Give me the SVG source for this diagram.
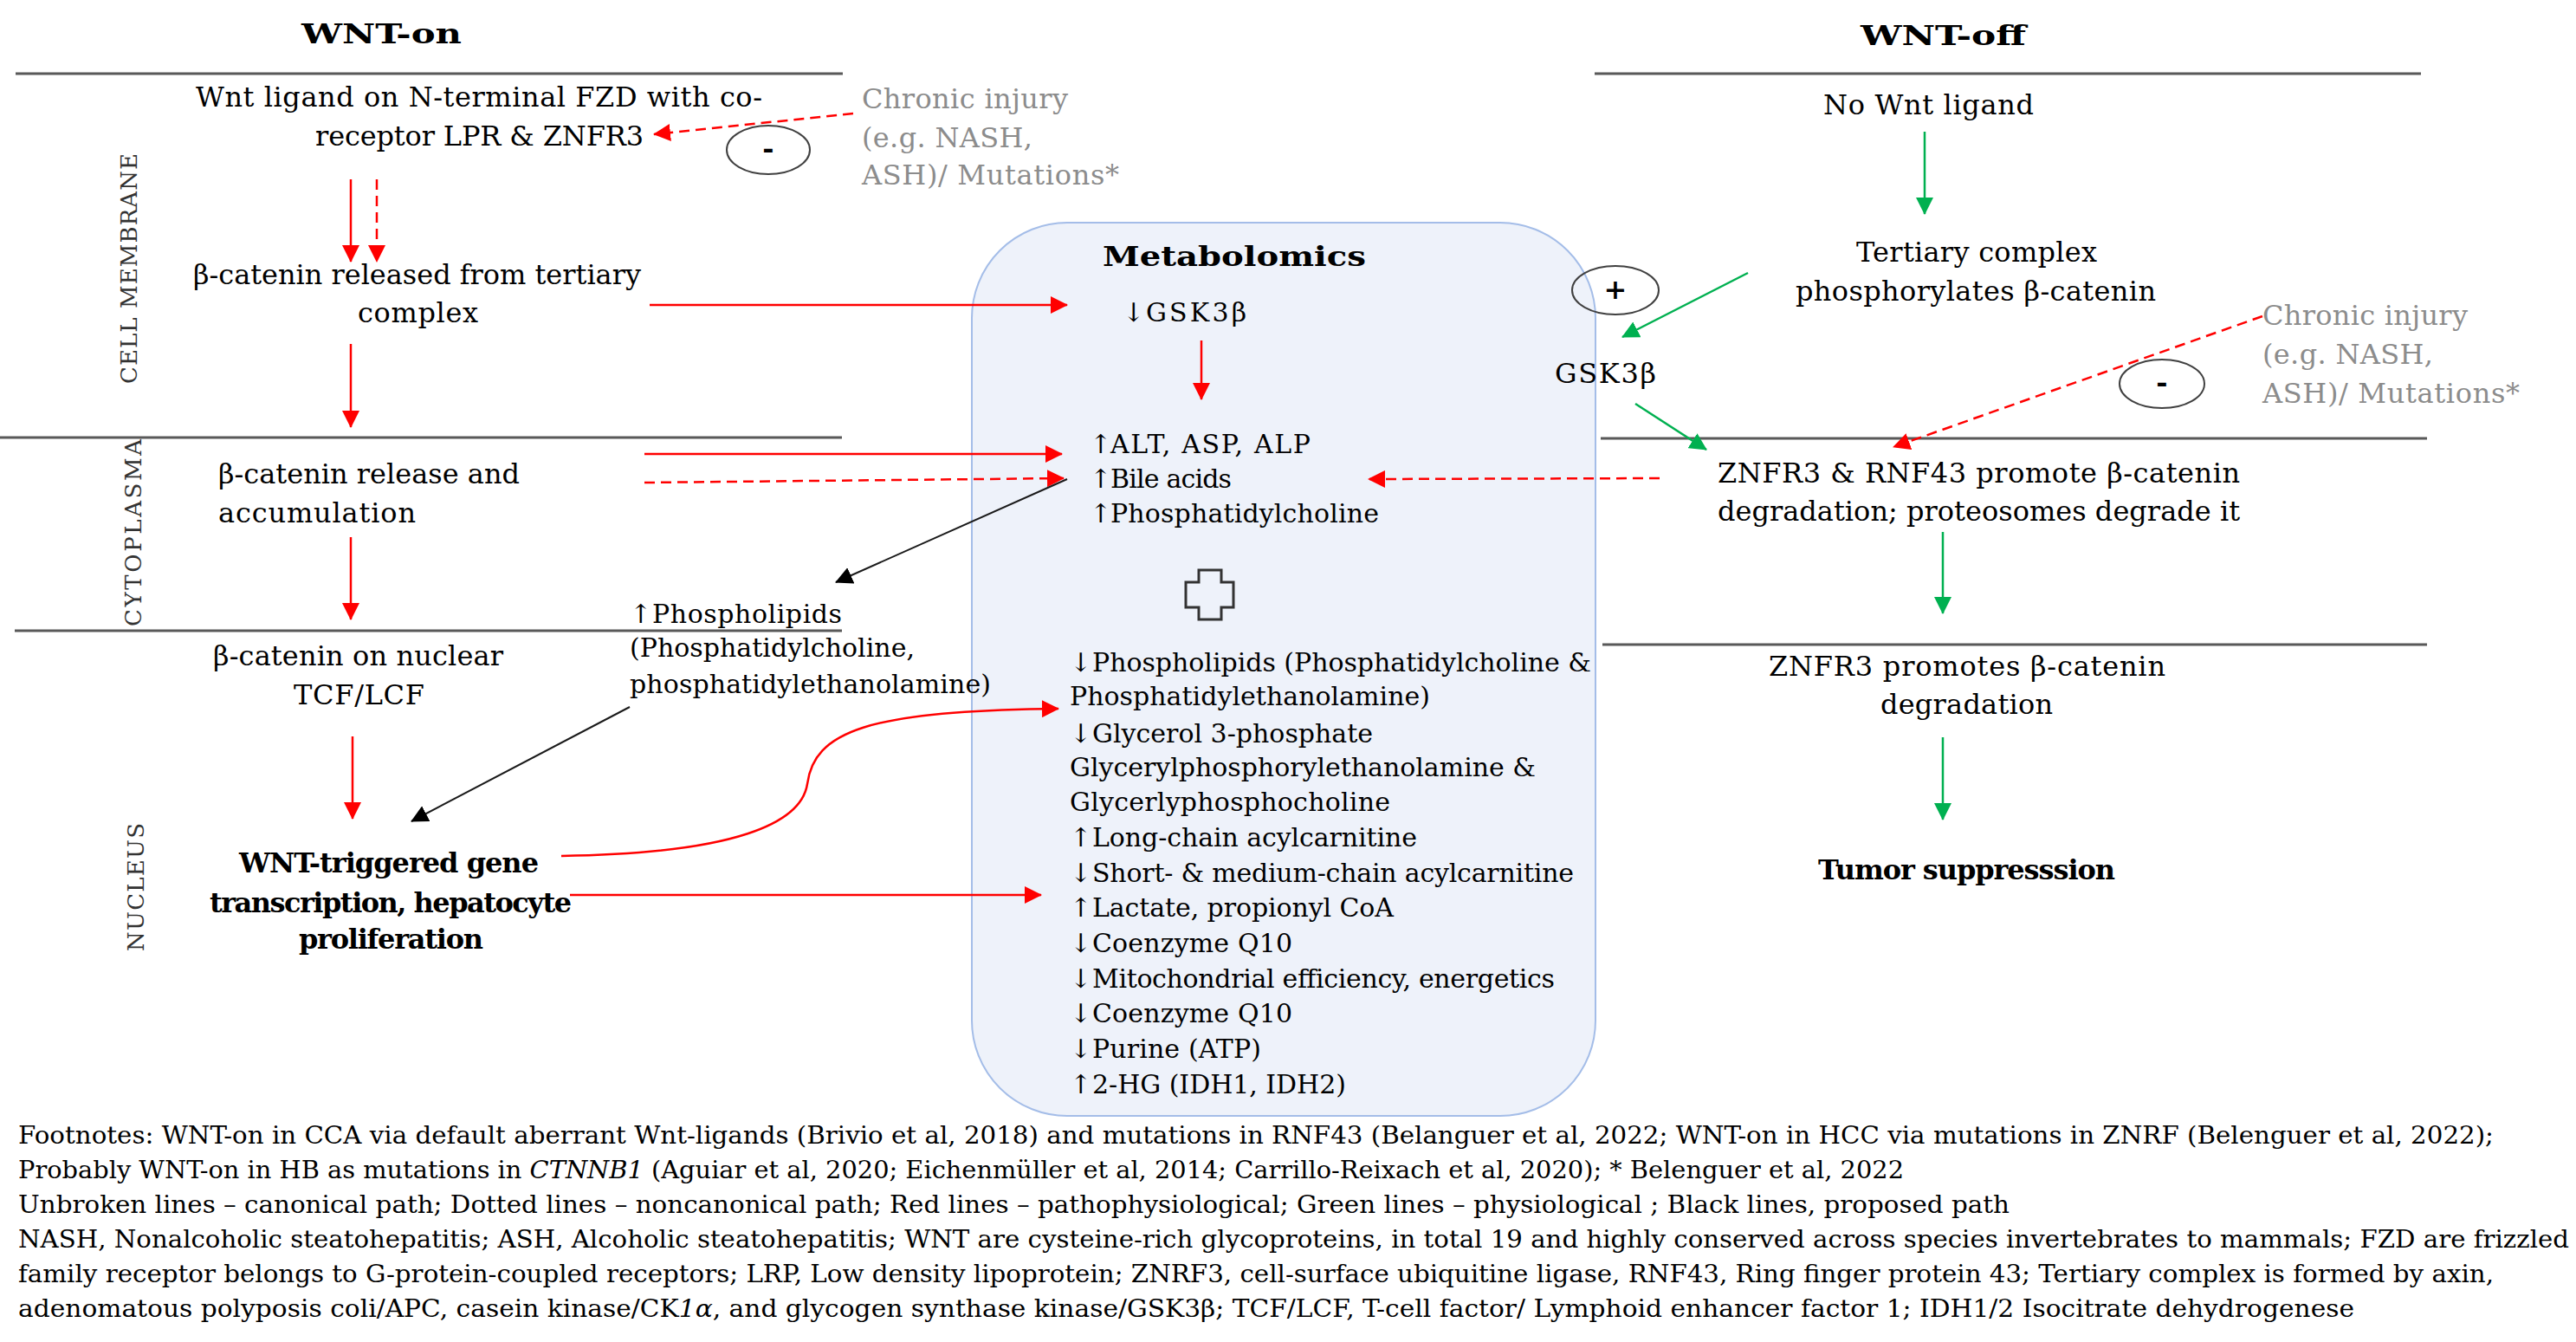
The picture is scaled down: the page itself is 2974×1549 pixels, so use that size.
<svg xmlns="http://www.w3.org/2000/svg" width="2974" height="1549" viewBox="0 0 2974 1549">
<style>
.n { font-family: "DejaVu Serif", "Liberation Serif", serif; font-size: 32px; fill: #000; }
.b { font-weight: bold; }
.m { font-size: 30px; }
.g { fill: #8c8c8c; }
.v { font-size: 26px; fill: #333; }
.f { font-size: 27px; }
.rule { stroke: #595959; stroke-width: 3; }
.red { stroke: #ff0000; stroke-width: 2.5; fill: none; }
.dash { stroke-dasharray: 12 7; }
.grn { stroke: #00b050; stroke-width: 2.5; fill: none; }
.blk { stroke: #1a1a1a; stroke-width: 2; fill: none; }
.ell { fill: none; stroke: #404040; stroke-width: 2; }
</style>
<defs>
<marker id="ar" viewBox="0 0 20 20" refX="19" refY="10" markerWidth="20" markerHeight="20" markerUnits="userSpaceOnUse" orient="auto"><path d="M0,0 L20,10 L0,20 Z" fill="#ff0000"/></marker>
<marker id="ag" viewBox="0 0 20 20" refX="19" refY="10" markerWidth="20" markerHeight="20" markerUnits="userSpaceOnUse" orient="auto"><path d="M0,0 L20,10 L0,20 Z" fill="#00b050"/></marker>
<marker id="ak" viewBox="0 0 20 20" refX="19" refY="10" markerWidth="20" markerHeight="20" markerUnits="userSpaceOnUse" orient="auto"><path d="M0,0 L20,10 L0,20 Z" fill="#000"/></marker>
</defs>
<rect width="2974" height="1549" fill="#fff"/>

<g id="rules">
<line class="rule" x1="18" y1="85" x2="973" y2="85"/>
<line class="rule" x1="1841" y1="85" x2="2795" y2="85"/>
<line class="rule" x1="0" y1="505" x2="972" y2="505"/>
<line class="rule" x1="17" y1="728" x2="972" y2="728"/>
<line class="rule" x1="1848" y1="506" x2="2802" y2="506"/>
<line class="rule" x1="1850" y1="744" x2="2802" y2="744"/>
</g>

<g id="metabolomics">
<rect x="1122" y="257" width="720" height="1031" rx="110" ry="110" fill="#eef2fa" stroke="#a4bde8" stroke-width="2"/>
<text class="n b" x="1273" y="307" font-size="44" textLength="304" lengthAdjust="spacingAndGlyphs">Metabolomics</text>
<text class="n m"><tspan x="1296" y="371">↓</tspan><tspan x="1323" y="371" textLength="116">GSK3β</tspan></text>
<text class="n m"><tspan x="1258" y="523">↑</tspan><tspan x="1282" y="523" textLength="231">ALT, ASP, ALP</tspan></text>
<text class="n m"><tspan x="1258" y="563">↑</tspan><tspan x="1282" y="563" textLength="140">Bile acids</tspan></text>
<text class="n m"><tspan x="1258" y="603">↑</tspan><tspan x="1282" y="603" textLength="310">Phosphatidylcholine</tspan></text>
<polygon points="1384,658 1410,658 1410,672 1424,672 1424,701 1410,701 1410,715 1384,715 1384,701 1369,701 1369,672 1384,672" fill="none" stroke="#333" stroke-width="3"/>
<text class="n m"><tspan x="1235" y="775">↓</tspan><tspan x="1261" y="775" textLength="576">Phospholipids (Phosphatidylcholine &amp;</tspan></text>
<text class="n m" x="1235" y="814" textLength="416">Phosphatidylethanolamine)</text>
<text class="n m"><tspan x="1235" y="857">↓</tspan><tspan x="1261" y="857" textLength="324">Glycerol 3-phosphate</tspan></text>
<text class="n m" x="1235" y="896" textLength="538">Glycerylphosphorylethanolamine &amp;</text>
<text class="n m" x="1235" y="936" textLength="370">Glycerlyphosphocholine</text>
<text class="n m"><tspan x="1235" y="977">↑</tspan><tspan x="1261" y="977" textLength="375">Long-chain acylcarnitine</tspan></text>
<text class="n m"><tspan x="1235" y="1018">↓</tspan><tspan x="1261" y="1018" textLength="556">Short- &amp; medium-chain acylcarnitine</tspan></text>
<text class="n m"><tspan x="1235" y="1058">↑</tspan><tspan x="1261" y="1058" textLength="348">Lactate, propionyl CoA</tspan></text>
<text class="n m"><tspan x="1235" y="1099">↓</tspan><tspan x="1261" y="1099" textLength="231">Coenzyme Q10</tspan></text>
<text class="n m"><tspan x="1235" y="1140">↓</tspan><tspan x="1261" y="1140" textLength="534">Mitochondrial efficiency, energetics</tspan></text>
<text class="n m"><tspan x="1235" y="1180">↓</tspan><tspan x="1261" y="1180" textLength="231">Coenzyme Q10</tspan></text>
<text class="n m"><tspan x="1235" y="1221">↓</tspan><tspan x="1261" y="1221" textLength="195">Purine (ATP)</tspan></text>
<text class="n m"><tspan x="1235" y="1262">↑</tspan><tspan x="1261" y="1262" textLength="293">2-HG (IDH1, IDH2)</tspan></text>
</g>

<g id="titles">
<text class="n b" x="348" y="50" font-size="46" textLength="185" lengthAdjust="spacingAndGlyphs">WNT-on</text>
<text class="n b" x="2148" y="52" font-size="46" textLength="191" lengthAdjust="spacingAndGlyphs">WNT-off</text>
</g>

<g id="compartments">
<text class="n v" transform="translate(158,310) rotate(-90)" x="-133" y="0" textLength="266">CELL MEMBRANE</text>
<text class="n v" transform="translate(163,615) rotate(-90)" x="-108" y="0" textLength="216">CYTOPLASMA</text>
<text class="n v" transform="translate(166,1024) rotate(-90)" x="-74" y="0" textLength="148">NUCLEUS</text>
</g>

<g id="wnt-ligand">
<text class="n" x="226" y="123" textLength="654">Wnt ligand on N-terminal FZD with co-</text>
<text class="n" x="364" y="168" textLength="379">receptor LPR &amp; ZNFR3</text>
</g>
<g id="injury-left">
<text class="n g" x="995" y="125" textLength="238">Chronic injury</text>
<text class="n g" x="995" y="170" textLength="197">(e.g. NASH,</text>
<text class="n g" x="995" y="213" textLength="297">ASH)/ Mutations*</text>
</g>
<g id="minus-left">
<ellipse class="ell" cx="887" cy="173" rx="48" ry="28"/>
<text class="n b" x="887" y="182" font-size="28" text-anchor="middle">-</text>
</g>
<g id="bcat-released">
<text class="n" x="223" y="328" textLength="517">β-catenin released from tertiary</text>
<text class="n" x="413" y="372" textLength="139">complex</text>
</g>
<g id="bcat-accum">
<text class="n" x="252" y="558" textLength="348">β-catenin release and</text>
<text class="n" x="252" y="603" textLength="228">accumulation</text>
</g>
<g id="bcat-nuclear">
<text class="n" x="246" y="768" textLength="335">β-catenin on nuclear</text>
<text class="n" x="339" y="813" textLength="151">TCF/LCF</text>
</g>
<g id="phospholipids">
<text class="n m"><tspan x="727" y="719">↑</tspan><tspan x="753" y="719" textLength="219">Phospholipids</tspan></text>
<text class="n m" x="727" y="758" textLength="329">(Phosphatidylcholine,</text>
<text class="n m" x="727" y="800" textLength="417">phosphatidylethanolamine)</text>
</g>
<g id="gene-transcription">
<text class="n b" x="276" y="1007" textLength="346">WNT-triggered gene</text>
<text class="n b" x="242" y="1053" textLength="418">transcription, hepatocyte</text>
<text class="n b" x="345" y="1095" textLength="213">proliferation</text>
</g>

<g id="no-wnt">
<text class="n" x="2105" y="132" textLength="243">No Wnt ligand</text>
</g>
<g id="tertiary-complex">
<text class="n" x="2143" y="302" textLength="278">Tertiary complex</text>
<text class="n" x="2073" y="347" textLength="416">phosphorylates β-catenin</text>
</g>
<g id="plus">
<ellipse class="ell" cx="1865" cy="335" rx="50" ry="28"/>
<text class="n b" x="1865" y="345" font-size="28" text-anchor="middle">+</text>
</g>
<g id="gsk3b">
<text class="n" x="1795" y="442" textLength="117">GSK3β</text>
</g>
<g id="injury-right">
<text class="n g" x="2612" y="375" textLength="237">Chronic injury</text>
<text class="n g" x="2612" y="420" textLength="197">(e.g. NASH,</text>
<text class="n g" x="2612" y="465" textLength="297">ASH)/ Mutations*</text>
</g>
<g id="minus-right">
<ellipse class="ell" cx="2496" cy="443" rx="49" ry="28"/>
<text class="n b" x="2496" y="452" font-size="28" text-anchor="middle">-</text>
</g>
<g id="znfr3-rnf43">
<text class="n" x="1983" y="557" textLength="603">ZNFR3 &amp; RNF43 promote β-catenin</text>
<text class="n" x="1983" y="601" textLength="603">degradation; proteosomes degrade it</text>
</g>
<g id="znfr3">
<text class="n" x="2042" y="780" textLength="458">ZNFR3 promotes β-catenin</text>
<text class="n" x="2171" y="824" textLength="199">degradation</text>
</g>
<g id="tumor-suppression">
<text class="n b" x="2099" y="1015" textLength="343">Tumor suppresssion</text>
</g>

<g id="connectors">
<line class="red" x1="405" y1="207" x2="405" y2="302" marker-end="url(#ar)"/>
<line class="red dash" x1="435" y1="207" x2="435" y2="302" marker-end="url(#ar)"/>
<line class="red dash" x1="985" y1="131" x2="755" y2="155" marker-end="url(#ar)"/>
<line class="red" x1="405" y1="397" x2="405" y2="493" marker-end="url(#ar)"/>
<line class="red" x1="750" y1="352" x2="1232" y2="352" marker-end="url(#ar)"/>
<line class="red" x1="1387" y1="393" x2="1387" y2="461" marker-end="url(#ar)"/>
<line class="red" x1="744" y1="524" x2="1226" y2="524" marker-end="url(#ar)"/>
<line class="red dash" x1="744" y1="557" x2="1228" y2="552" marker-end="url(#ar)"/>
<line class="red dash" x1="1916" y1="552" x2="1580" y2="553" marker-end="url(#ar)"/>
<line class="red" x1="405" y1="620" x2="405" y2="715" marker-end="url(#ar)"/>
<line class="red" x1="407" y1="850" x2="407" y2="945" marker-end="url(#ar)"/>
<path class="red" d="M648,988 C850,985 925,950 932,905 C940,845 1000,820 1222,818" marker-end="url(#ar)"/>
<line class="red" x1="658" y1="1033" x2="1202" y2="1033" marker-end="url(#ar)"/>
<line class="red dash" x1="2612" y1="365" x2="2186" y2="516" marker-end="url(#ar)"/>
<line class="blk" x1="1232" y1="553" x2="965" y2="672" marker-end="url(#ak)"/>
<line class="blk" x1="727" y1="816" x2="475" y2="948" marker-end="url(#ak)"/>
<line class="grn" x1="2222" y1="152" x2="2222" y2="247" marker-end="url(#ag)"/>
<line class="grn" x1="2018" y1="315" x2="1873" y2="389" marker-end="url(#ag)"/>
<line class="grn" x1="1888" y1="466" x2="1970" y2="519" marker-end="url(#ag)"/>
<line class="grn" x1="2243" y1="614" x2="2243" y2="708" marker-end="url(#ag)"/>
<line class="grn" x1="2243" y1="851" x2="2243" y2="946" marker-end="url(#ag)"/>
</g>

<g id="footnotes">
<text class="n f" x="21" y="1320" textLength="2858" lengthAdjust="spacingAndGlyphs">Footnotes: WNT-on in CCA via default aberrant Wnt-ligands (Brivio et al, 2018) and mutations in RNF43 (Belanguer et al, 2022; WNT-on in HCC via mutations in ZNRF (Belenguer et al, 2022);</text>
<text class="n f" x="21" y="1360" textLength="2177" lengthAdjust="spacingAndGlyphs">Probably WNT-on in HB as mutations in <tspan font-style="italic">CTNNB1</tspan> (Aguiar et al, 2020; Eichenmüller et al, 2014; Carrillo-Reixach et al, 2020); * Belenguer et al, 2022</text>
<text class="n f" x="21" y="1400" textLength="2299" lengthAdjust="spacingAndGlyphs">Unbroken lines – canonical path; Dotted lines – noncanonical path; Red lines – pathophysiological; Green lines – physiological ; Black lines, proposed path</text>
<text class="n f" x="21" y="1440" textLength="2945" lengthAdjust="spacingAndGlyphs">NASH, Nonalcoholic steatohepatitis; ASH, Alcoholic steatohepatitis; WNT are cysteine-rich glycoproteins, in total 19 and highly conserved across species invertebrates to mammals; FZD are frizzled</text>
<text class="n f" x="21" y="1480" textLength="2858" lengthAdjust="spacingAndGlyphs">family receptor belongs to G-protein-coupled receptors; LRP, Low density lipoprotein; ZNRF3, cell-surface ubiquitine ligase, RNF43, Ring finger protein 43; Tertiary complex is formed by axin,</text>
<text class="n f" x="21" y="1520" textLength="2697" lengthAdjust="spacingAndGlyphs">adenomatous polyposis coli/APC, casein kinase/CK<tspan font-style="italic">1α</tspan>, and glycogen synthase kinase/GSK3β; TCF/LCF, T-cell factor/ Lymphoid enhancer factor 1;  IDH1/2 Isocitrate dehydrogenese</text>
</g>
</svg>
